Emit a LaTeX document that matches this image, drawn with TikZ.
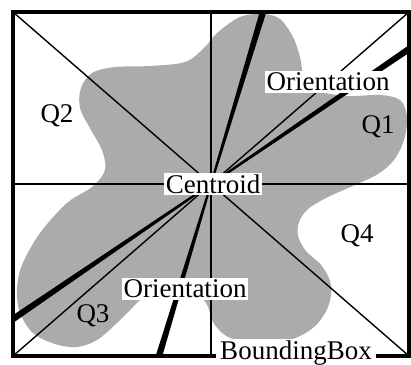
\documentclass[tikz,border=0pt]{standalone}
\usepackage{fontspec}
\setmainfont{Liberation Serif}
\usetikzlibrary{calc}
\definecolor{blobgray}{gray}{0.67}

\begin{document}
\begin{tikzpicture}[x=1pt,y=-1pt,
    lbl/.style={font=\fontsize{27}{29}\selectfont,inner sep=1.5pt},
    boxlbl/.style={lbl,fill=white},
    guide/.style={line width=1.4pt},
    frame/.style={line width=4pt}]
\useasboundingbox (0,0) rectangle (411,364);

% corners, centroid and orientation ends
\coordinate (tl) at (13,12);
\coordinate (tr) at (409,12);
\coordinate (bl) at (13,356);
\coordinate (br) at (409,356);
\coordinate (cen) at (211,184);
\coordinate (tm) at (211,12);
\coordinate (bm) at (211,356);
\coordinate (lm) at (13,184);
\coordinate (rm) at (411,184);
\coordinate (oa) at (409,49);
\coordinate (ob) at (13,319);
\coordinate (oc) at (263,12);
\coordinate (od) at (159,356);

% Draw the blob
\fill[blobgray] plot [smooth cycle, tension=0.55] coordinates {
    (217,33) (240,17) (263,14) (280,19) (293,37) (300,57) (305,80)
    (322,92) (350,96) (380,95) (400,100) (407,117) (404,140) (394,160)
    (378,174) (355,185) (328,197) (308,209) (299,222) (298,236) (306,251)
    (322,266) (331,285) (328,307) (314,327) (290,340) (257,344) (228,337)
    (213,322) (206,303) (185,282) (160,285) (147,293) (133,307) (117,323)
    (97,340) (77,347) (55,344) (33,333) (20,313) (17,290) (22,265)
    (40,233) (67,203) (92,187) (105,170) (102,150) (91,130) (80,108)
    (81,88) (92,73) (115,67) (150,66) (185,62) (204,48)};

% quadrant lines
\draw[guide] (tm) -- (bm);
\draw[guide] (lm) -- (rm);
\draw[guide] (tl) -- (br);
\draw[guide] (tr) -- (bl);

% orientation bars (tapered)
\fill ($(cen)!1pt!90:(oa)$) -- ($(oa)!3.2pt!-90:(cen)$)
    -- ($(oa)!3.2pt!90:(cen)$) -- ($(cen)!1pt!-90:(oa)$) -- cycle;
\fill ($(cen)!1pt!90:(ob)$) -- ($(ob)!3.2pt!-90:(cen)$)
    -- ($(ob)!3.2pt!90:(cen)$) -- ($(cen)!1pt!-90:(ob)$) -- cycle;
\fill ($(cen)!1pt!90:(oc)$) -- ($(oc)!3.2pt!-90:(cen)$)
    -- ($(oc)!3.2pt!90:(cen)$) -- ($(cen)!1pt!-90:(oc)$) -- cycle;
\fill ($(cen)!1pt!90:(od)$) -- ($(od)!3.2pt!-90:(cen)$)
    -- ($(od)!3.2pt!90:(cen)$) -- ($(cen)!1pt!-90:(od)$) -- cycle;

% bounding box
\draw[frame] (tl) -- (tr) -- (br) -- (bl) -- cycle;

% Label the parts
\node[boxlbl] (cenlbl) at (213,184) {Centroid};
\node[boxlbl] (orup) at (328,82) {Orientation};
\node[boxlbl] (orlo) at (185,289) {Orientation};
\node[boxlbl,inner xsep=4pt] (bbox) at (296,353) {BoundingBox};
\node[lbl] (q1) at (378,127) {Q1};
\node[lbl] (q2) at (57,116) {Q2};
\node[lbl] (q3) at (93,316) {Q3};
\node[lbl] (q4) at (357,236) {Q4};
\end{tikzpicture}
\end{document}
